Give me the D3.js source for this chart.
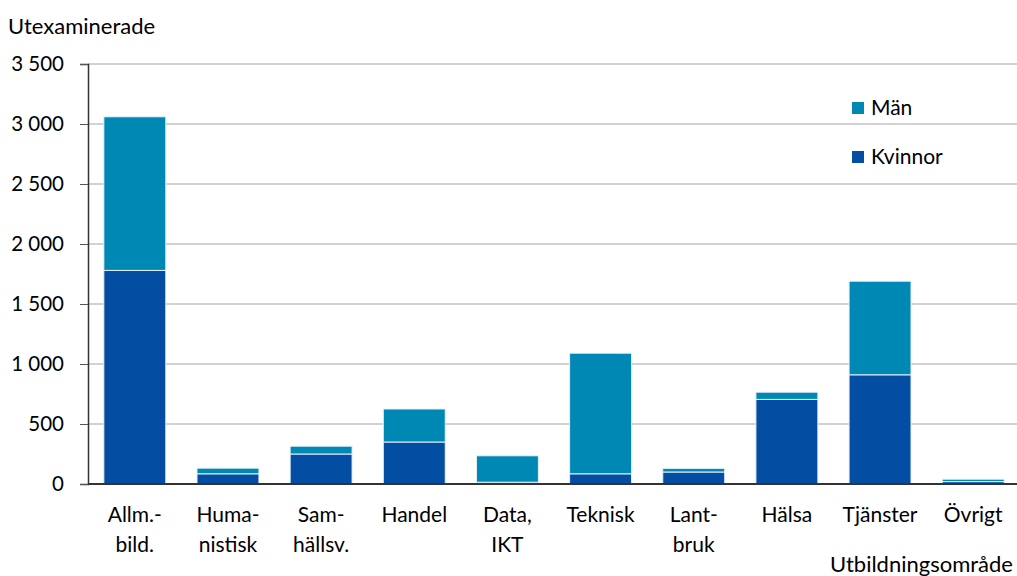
<!DOCTYPE html>
<html>
<head>
<meta charset="utf-8">
<script src="https://cdn.jsdelivr.net/npm/d3@7"></script>
<style>
  body { margin: 0; background: #fff; }
  text { font-family: Lato, "Open Sans", sans-serif; fill: #000; }
</style>
</head>
<body>
<script>
const categories = ["Allm.-|bild.", "Huma-|nistisk", "Sam-|hällsv.", "Handel", "Data,|IKT", "Teknisk", "Lant-|bruk", "Hälsa", "Tjänster", "Övrigt"];
const kvinnor = [1780, 85, 250, 350, 15, 85, 100, 705, 910, 20];
const man = [1280, 47, 65, 275, 220, 1005, 30, 60, 780, 20];
const yTicks = [0, 500, 1000, 1500, 2000, 2500, 3000, 3500];

const colKv = "#034ea2", colMan = "#0088b4";

const svg = d3.select("body").append("svg")
  .attr("width", 1017)
  .attr("height", 576);

const x = d3.scaleBand().domain(categories).range([88, 1020]).paddingInner(0.335).paddingOuter(0.17);
const y = d3.scaleLinear().domain([0, 3500]).range([484, 64]);

// grid
svg.append("g").selectAll("line")
  .data(yTicks.filter(d => d > 0))
  .enter().append("line")
  .attr("x1", 88).attr("x2", 1017)
  .attr("y1", d => y(d)).attr("y2", d => y(d))
  .attr("stroke", "#a6a6a6").attr("stroke-width", 1.2);

// y axis
const fmt = d => d3.format(",")(d).replace(/,/g, " ");
const yAxis = svg.append("g")
  .attr("transform", "translate(88,0)")
  .call(d3.axisLeft(y).tickValues(yTicks).tickFormat(fmt).tickSize(8).tickPadding(16));
yAxis.select(".domain").attr("stroke", "#333").attr("stroke-width", 1.5);
yAxis.selectAll(".tick line").attr("stroke", "#555");
yAxis.selectAll("text").attr("font-size", 20.5).style("font-family", "Lato, sans-serif");

// bars
const g = svg.append("g");
categories.forEach((c, i) => {
  g.append("rect")
    .attr("x", x(c)).attr("width", x.bandwidth())
    .attr("y", y(kvinnor[i])).attr("height", y(0) - y(kvinnor[i]))
    .attr("fill", colKv).attr("stroke", "#e8f0f8").attr("stroke-width", 1);
  g.append("rect")
    .attr("x", x(c)).attr("width", x.bandwidth())
    .attr("y", y(kvinnor[i] + man[i])).attr("height", y(0) - y(man[i]))
    .attr("fill", colMan).attr("stroke", "#e8f0f8").attr("stroke-width", 1);
});

// x baseline
svg.append("line")
  .attr("x1", 88).attr("x2", 1017)
  .attr("y1", y(0)).attr("y2", y(0))
  .attr("stroke", "#333").attr("stroke-width", 2);

// x labels
categories.forEach(c => {
  const t = svg.append("text")
    .attr("text-anchor", "middle")
    .attr("font-size", 21);
  c.split("|").forEach((s, j) => {
    t.append("tspan")
      .attr("x", x(c) + x.bandwidth() / 2)
      .attr("y", 522 + j * 30)
      .text(s);
  });
});

// axis titles
svg.append("text").attr("x", 8).attr("y", 34).attr("font-size", 22).text("Utexaminerade");
svg.append("text").attr("x", 1013).attr("y", 572).attr("text-anchor", "end").attr("font-size", 22).text("Utbildningsområde");

// legend
const legend = [["Män", colMan, 102], ["Kvinnor", colKv, 151]];
legend.forEach(l => {
  svg.append("rect").attr("x", 852).attr("y", l[2]).attr("width", 12).attr("height", 12).attr("fill", l[1]);
  svg.append("text").attr("x", 871).attr("y", l[2] + 13).attr("font-size", 21).text(l[0]);
});
</script>
</body>
</html>
